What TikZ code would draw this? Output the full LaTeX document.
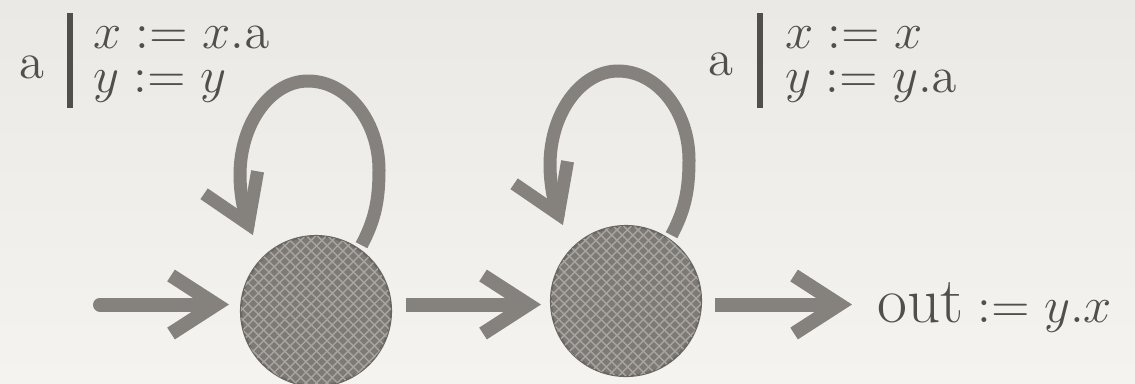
\documentclass[tikz,border=0pt]{standalone}
\usepackage{amsmath}
\usepackage{tikz}
\usetikzlibrary{arrows.meta, positioning, patterns, calc}

\definecolor{bgtop}{HTML}{EAE9E5}
\definecolor{bgbot}{HTML}{F4F3F0}
\definecolor{inkgray}{HTML}{85817D}
\definecolor{statefill}{HTML}{7D7975}
\definecolor{statedot}{HTML}{A8A4A0}
\definecolor{txtgray}{HTML}{524E4A}

\begin{document}
\begin{tikzpicture}[>={Straight Barb[length=0.45cm, width=0.58cm]},
    every node/.style={font=\fontsize{14.5pt}{17pt}\selectfont, text=txtgray, inner sep=0pt},
    state/.style={circle, minimum size=1.5cm, fill=statefill, draw=statefill!85!black, line width=0.6pt,
      postaction={pattern=crosshatch, pattern color=statedot}},
    asg/.style={align=left, anchor=base west, font=\fontsize{14.5pt}{12.5pt}\selectfont},
    trans/.style={->, draw=inkgray, line width=0.14cm},
    loopline/.style={->, draw=inkgray, line width=0.13cm},
    bar/.style={draw=txtgray, line width=0.06cm}]
    % 背景
    \useasboundingbox (0,0) rectangle (11.35,3.83);
    \shade[top color=bgtop, bottom color=bgbot] (0,0) rectangle (11.35,3.83);

    % 状态
    \node[state] (q1) at (3.16,0.72) {};
    \node[state] (q2) at (6.26,0.82) {};
    \coordinate (in) at (1.0,0.785);
    \node[anchor=base west] (out) at (8.77,0.61)
      {\fontsize{18.5pt}{20pt}\selectfont out\fontsize{14.5pt}{17pt}\selectfont${} := y.x$};

    % 标签
    \node[anchor=base] (a1) at (0.315,3.05) {a};
    \node[asg] (asg1) at (0.93,2.91) {$x := x.\mathrm{a}$\\$y := y$};
    \draw[bar] (0.70,3.70) -- (0.70,2.75);
    \node[anchor=base] (a2) at (7.205,3.08) {a};
    \node[asg] (asg2) at (7.85,2.91) {$x := x$\\$y := y.\mathrm{a}$};
    \draw[bar] (7.60,3.70) -- (7.60,2.75);

    % 箭头
    \draw[trans, line cap=round, shorten >=0.11cm] (in) -- (in -| q1.west);
    \draw[trans, shorten <=0.14cm, shorten >=0.09cm] (q1.east |- in) -- (q2.west |- in);
    \draw[trans, shorten <=0.13cm, shorten >=0.25cm] (q2.east |- in) -- (out.west |- in);

    % 自环
    \foreach \s in {q1,q2}
      \draw[loopline, shorten <=0.04cm, shorten >=0.24cm] (\s.55)
        .. controls ($(\s)+(0.59,0.91)$) and ($(\s)+(0.63,1.11)$) .. ($(\s)+(0.63,1.41)$)
        .. controls ($(\s)+(0.63,1.90)$) and ($(\s)+(0.31,2.30)$) .. ($(\s)+(-0.08,2.30)$)
        .. controls ($(\s)+(-0.45,2.30)$) and ($(\s)+(-0.76,1.88)$) .. ($(\s)+(-0.76,1.36)$)
        .. controls ($(\s)+(-0.76,1.11)$) and ($(\s)+(-0.69,0.90)$) .. (\s.135);
\end{tikzpicture}
\end{document}
